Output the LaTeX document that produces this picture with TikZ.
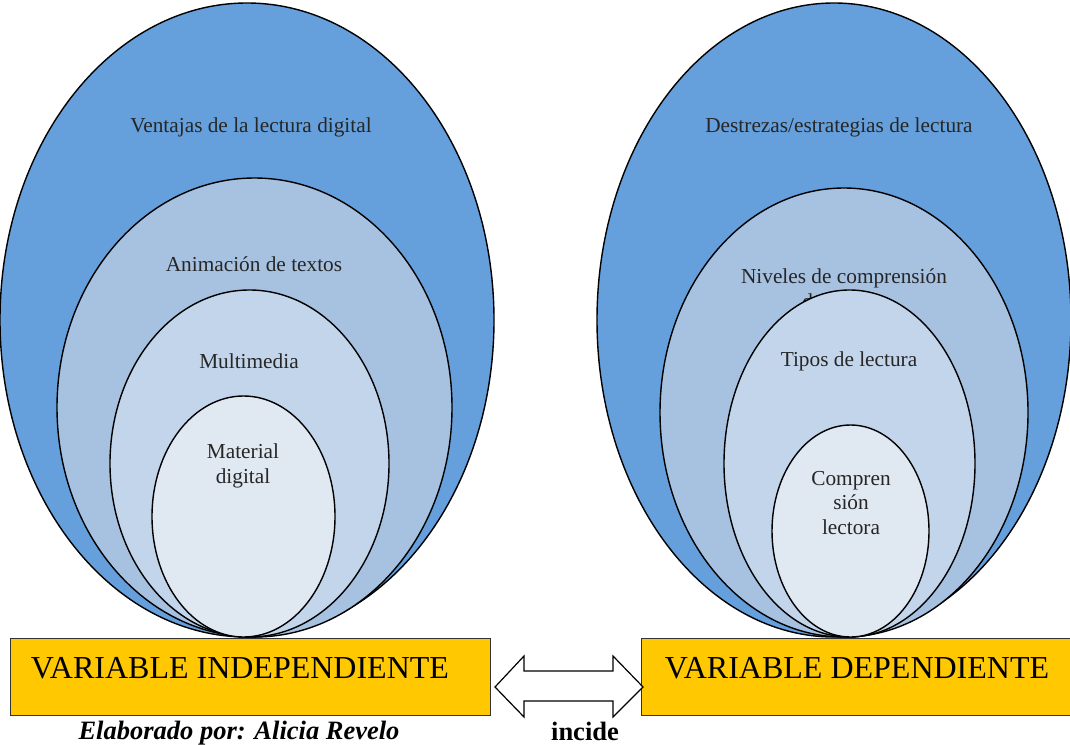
\documentclass[tikz,border=0pt]{standalone}
\usepackage{fontspec}
\setmainfont{Liberation Serif}
\usetikzlibrary{shapes.geometric}
\definecolor{blueA}{RGB}{101,160,220}
\definecolor{blueB}{RGB}{167,193,224}
\definecolor{blueC}{RGB}{195,213,234}
\definecolor{blueD}{RGB}{224,232,242}
\definecolor{gold}{RGB}{255,200,0}
\tikzset{
	ring/.style 2 args = {draw, ellipse, line width=1.4pt, inner sep=0pt,
		minimum width=#1, minimum height=#2},
	lbl/.style      = {font=\fontsize{21.3}{24.5}\selectfont, align=center,
		text=black!85},
	varbox/.style   = {draw=black!80, line width=1pt, fill=gold, inner sep=0pt},
	vartext/.style  = {font=\fontsize{32}{36}\selectfont},
	foot/.style     = {font=\fontsize{26.5}{28}\selectfont\bfseries}
}

\begin{document}
\begin{tikzpicture}[x=1pt, y=-1pt]
\useasboundingbox (0,0) rectangle (1070,744);
% Left group: variable independiente
\draw
node at (247,320)[ring={494}{634}, fill=blueA] (l1) {}
node at (251,127.5)[lbl] (t1) {Ventajas de la lectura digital}
node at (254.5,407.5)[ring={395}{459}, fill=blueB] (l2) {}
node at (254,264.5)[lbl] (t2) {Animación de textos}
node at (249.5,463.5)[ring={279}{347}, fill=blueC] (l3) {}
node at (249,361.5)[lbl] (t3) {Multimedia}
node at (243.5,516.5)[ring={183}{241}, fill=blueD] (l4) {}
node at (243,466)[lbl] (t4) {Material\\digital};

% Right group: variable dependiente
\draw
node at (834,320)[ring={474}{634}, fill=blueA] (r1) {}
node at (839,127.5)[lbl] (u1) {Destrezas/estrategias de lectura}
node at (844,412.5)[ring={368}{449}, fill=blueB] (r2) {}
node at (844,288.5)[lbl] (u2) {Niveles de comprensión\\de lectura}
node at (849.5,463.5)[ring={251}{347}, fill=blueC] (r3) {}
node at (849,361.5)[lbl] (u3) {Tipos de lectura}
node at (850.5,531)[ring={157}{212}, fill=blueD] (r4) {}
node at (851,503)[lbl] (u4) {Compren\\sión\\lectora};

% Boxes
\draw
node at (250,676.5)[varbox, minimum width=480, minimum height=77] (vi) {}
node at (240,668)[vartext] {VARIABLE INDEPENDIENTE}
node at (855.5,676.5)[varbox, minimum width=429, minimum height=77] (vd) {}
node at (857,668)[vartext] {VARIABLE DEPENDIENTE};

% Double arrow
\coordinate (tipL) at (495,687);
\coordinate (tipR) at (643,687);
\draw[line width=1.2pt, fill=white, line join=miter]
(tipL) -- (524,656) -- (524,671) -- (613,671) -- (613,656) -- (tipR)
-- (613,717) -- (613,701) -- (524,701) -- (524,717) -- cycle;

\draw
node at (239,733)[foot] (by) {\itshape Elaborado por: Alicia Revelo}
node at (585,731)[foot] (inc) {incide};
\end{tikzpicture}
\end{document}
